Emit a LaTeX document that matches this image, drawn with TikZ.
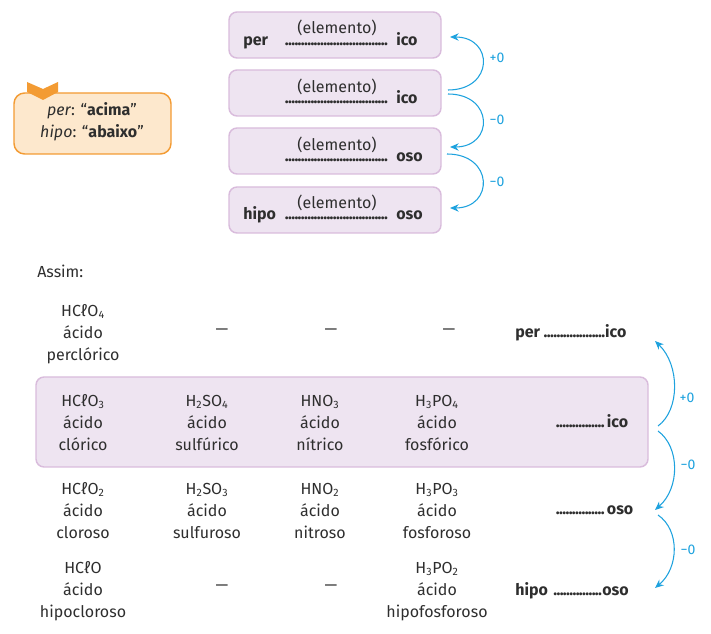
\documentclass[tikz,border=0pt]{standalone}
\usepackage{fontspec}
\setmainfont{Fira Sans}
\usetikzlibrary{arrows.meta}

\definecolor{lilacfill}{HTML}{EEE4F1}
\definecolor{lilacline}{HTML}{D9BCDC}
\definecolor{notefill}{HTML}{FDE8CD}
\definecolor{noteline}{HTML}{F39B33}
\definecolor{jumpblue}{HTML}{1EA2DE}
\definecolor{ink}{HTML}{2E2E2E}

\newcommand{\dotrun}[1]{{\bfseries\leaders\hbox to 2.4pt{\hss.\hss}\hskip #1\relax\kern0pt}}

\begin{document}
\begin{tikzpicture}[x=0.75pt, y=-0.75pt,
    every node/.style={text=ink, inner sep=0pt, font=\fontsize{12}{16.8}\selectfont},
    lilac/.style={draw=lilacline, fill=lilacfill, line width=1.1pt, rounded corners=6pt},
    cell/.style={anchor=base, align=center},
    jump/.style={jumpblue, line width=0.8pt, -{Stealth[length=6.5pt, width=5.5pt]}},
    jumplabel/.style={text=jumpblue, font=\fontsize{10.5}{12}\selectfont}]

    \useasboundingbox (0,0) rectangle (711,634);

    % the note
    \filldraw[draw=noteline, fill=notefill, line width=1.1pt, rounded corners=8pt] (14,93) rectangle (171,154);
    \fill[noteline] (27,82) -- (43,89) -- (58,82) -- (58,92) -- (43,100) -- (27,92) -- cycle;
    \node (note) at (92,138) [anchor=base, align=center] {\textit{per}: “\textbf{acima}”\\\textit{hipo}: “\textbf{abaixo}”};

    % the four boxes
    \filldraw[lilac] (229,12) rectangle (441,58);
    \filldraw[lilac] (229,70) rectangle (441,116);
    \filldraw[lilac] (229,128) rectangle (441,174);
    \filldraw[lilac] (229,187) rectangle (441,233);

    \node (elA) at (337,34) [anchor=base] {(elemento)};
    \node (perA) at (243,46) [anchor=base west] {\bfseries per};
    \node (dotsA) at (285,46) [anchor=base west] {\dotrun{78pt}};
    \node (icoA) at (396,46) [anchor=base west] {\bfseries ico};

    \node (elB) at (337,93) [anchor=base] {(elemento)};
    \node (dotsB) at (285,104) [anchor=base west] {\dotrun{78pt}};
    \node (icoB) at (396,104) [anchor=base west] {\bfseries ico};

    \node (elC) at (337,151) [anchor=base] {(elemento)};
    \node (dotsC) at (285,162) [anchor=base west] {\dotrun{78pt}};
    \node (osoC) at (396,162) [anchor=base west] {\bfseries oso};

    \node (elD) at (337,209) [anchor=base] {(elemento)};
    \node (hipoD) at (243,220) [anchor=base west] {\bfseries hipo};
    \node (dotsD) at (285,220) [anchor=base west] {\dotrun{78pt}};
    \node (osoD) at (396,220) [anchor=base west] {\bfseries oso};

    \coordinate (upA) at (450,37);
    \coordinate (upB) at (448,90);
    \coordinate (downB) at (448,94);
    \coordinate (inC) at (450,147);
    \coordinate (outC) at (447,154);
    \coordinate (inD) at (450,208);

    \draw[jump] (upB) .. controls (494,90) and (494,37) .. (upA);
    \draw[jump] (downB) .. controls (494,94) and (494,147) .. (inC);
    \draw[jump] (outC) .. controls (494,154) and (494,208) .. (inD);
    \node (plusA) at (497,58) [jumplabel] {+0};
    \node (minusB) at (497,120) [jumplabel] {−0};
    \node (minusC) at (497,182) [jumplabel] {−0};

    \node (assim) at (37,278) [anchor=base west] {Assim:};

    % highlighted row
    \filldraw[lilac] (36,377) rectangle (648,467);

    % first row
    \node (perclorico) at (83,361) [cell] {HCℓO\textsubscript{4}\\ácido\\perclórico};
    \node (dashA) at (222,332) {—};
    \node (dashB) at (331,332) {—};
    \node (dashC) at (449,332) {—};
    \node (perB) at (515,338) [anchor=base west] {\bfseries per \dotrun{46pt}ico};

    % second row
    \node (clorico) at (83,451) [cell] {HCℓO\textsubscript{3}\\ácido\\clórico};
    \node (sulfurico) at (207,451) [cell] {H\textsubscript{2}SO\textsubscript{4}\\ácido\\sulfúrico};
    \node (nitrico) at (320,451) [cell] {HNO\textsubscript{3}\\ácido\\nítrico};
    \node (fosforico) at (437,451) [cell] {H\textsubscript{3}PO\textsubscript{4}\\ácido\\fosfórico};
    \node (icoE) at (556,428) [anchor=base west] {\bfseries\dotrun{38pt}ico};

    % third row
    \node (cloroso) at (83,539) [cell] {HCℓO\textsubscript{2}\\ácido\\cloroso};
    \node (sulfuroso) at (207,539) [cell] {H\textsubscript{2}SO\textsubscript{3}\\ácido\\sulfuroso};
    \node (nitroso) at (320,539) [cell] {HNO\textsubscript{2}\\ácido\\nitroso};
    \node (fosforoso) at (437,539) [cell] {H\textsubscript{3}PO\textsubscript{3}\\ácido\\fosforoso};
    \node (osoE) at (556,515) [anchor=base west] {\bfseries\dotrun{38pt}oso};

    % fourth row
    \node (hipocloroso) at (83,618) [cell] {HCℓO\\ácido\\hipocloroso};
    \node (dashD) at (222,588) {—};
    \node (dashE) at (331,588) {—};
    \node (hipofosforoso) at (437,618) [cell] {H\textsubscript{3}PO\textsubscript{2}\\ácido\\hipofosforoso};
    \node (hipoE) at (515,595) [anchor=base west] {\bfseries hipo \dotrun{38pt}oso};

    \coordinate (toPer) at (655,341);
    \coordinate (fromIco) at (658,426);
    \coordinate (fromIcoB) at (658,431);
    \coordinate (toOso) at (655,510);
    \coordinate (fromOso) at (658,515);
    \coordinate (toHipo) at (655,588);

    \draw[jump] (fromIco) .. controls (680,410) and (680,365) .. (toPer);
    \draw[jump] (fromIcoB) .. controls (680,447) and (680,488) .. (toOso);
    \draw[jump] (fromOso) .. controls (680,530) and (679,568) .. (toHipo);
    \node (plusB) at (687,398) [jumplabel] {+0};
    \node (minusD) at (688,465) [jumplabel] {−0};
    \node (minusE) at (688,550) [jumplabel] {−0};
\end{tikzpicture}
\end{document}
